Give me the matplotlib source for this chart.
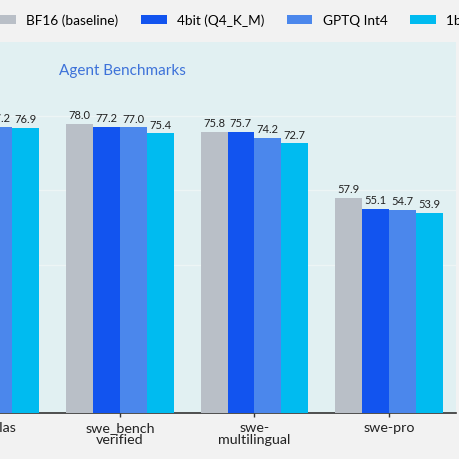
import numpy as np
import matplotlib
matplotlib.use("Agg")
import matplotlib.pyplot as plt

# data (first two mcp-atlas values are off-canvas, estimated)
categories = ["mcp-atlas", "swe_bench\nverified", "swe-\nmultilingual", "swe-pro"]
series_names = ["BF16 (baseline)", "4bit (Q4_K_M)", "GPTQ Int4", "1bit (IQ1_M)"]
bf16 = [78.4, 78.0, 75.8, 57.9]
q4 = [77.8, 77.2, 75.7, 55.1]
gptq = [77.2, 77.0, 74.2, 54.7]
onebit = [76.9, 75.4, 72.7, 53.9]

colors = ["#b9bfc7", "#1254ef", "#4b87ec", "#00bbf0"]

plt.rcParams["font.family"] = ["Lato", "DejaVu Sans"]

fig = plt.figure(figsize=(4.6, 4.6), dpi=100)
fig.patch.set_facecolor("#f2f2f2")

# axes is wider than the canvas: the left part is cut off like in the reference
ax = fig.add_axes([-0.1776, 0.10, 1.169, 0.8065])
ax.set_facecolor("#e1f0f2")

x = np.arange(len(categories))
width = 0.2
all_series = [bf16, q4, gptq, onebit]

for i, vals in enumerate(all_series):
    pos = x + (i - 1.5) * width
    bars = ax.bar(pos, vals, width, color=colors[i], label=series_names[i], zorder=3)
    for b, v in zip(bars, vals):
        ax.text(b.get_x() + b.get_width() / 2, v + 1.0, f"{v:.1f}",
                ha="center", va="bottom", fontsize=8, color="#222222", zorder=4)

ax.set_xlim(-0.5, 3.5)
ax.set_ylim(0, 100)
ax.set_yticks([40, 60, 80])
ax.yaxis.grid(True, color="#edf5f5", linewidth=1.0, zorder=0)
ax.set_xticks(x)
ax.set_xticklabels(categories, fontsize=10.3, color="#222222", linespacing=0.95)
ax.tick_params(axis="x", length=3, width=1, color="#333333", pad=3)
ax.tick_params(axis="y", length=0, labelleft=False)

for s in ["top", "right", "left"]:
    ax.spines[s].set_visible(False)
ax.spines["bottom"].set_color("#333333")
ax.spines["bottom"].set_linewidth(1.2)

ax.text(0.262, 0.925, "Agent Benchmarks", transform=ax.transAxes,
        ha="left", va="center", fontsize=11, color="#3d72d9")

fig.legend(loc="center left", bbox_to_anchor=(-10 / 460, 1 - 21 / 460),
           ncol=4, frameon=False, fontsize=9.8, borderpad=0, borderaxespad=0,
           handlelength=1.9, handleheight=0.6, handletextpad=0.75, columnspacing=1.65)

fig.savefig("out.png", dpi=100, facecolor=fig.get_facecolor())
